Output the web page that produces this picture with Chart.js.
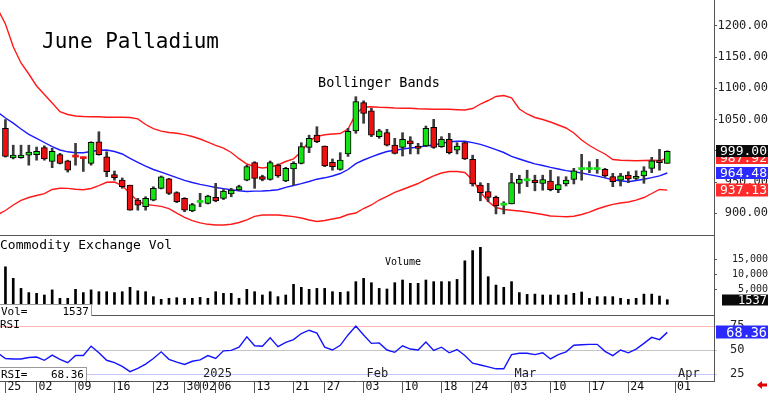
<!DOCTYPE html>
<html>
<head>
<meta charset="utf-8">
<script src="https://cdn.jsdelivr.net/npm/chart.js@4.4.1/dist/chart.umd.min.js"></script>
<style>
  body { margin: 0; background: #fff; width: 768px; height: 393px; overflow: hidden; position: relative; font-family: 'DejaVu Sans Mono', monospace; }
  canvas { position: absolute; left: 0; display: block; }
  .txt { position: absolute; white-space: pre; color: #000; line-height: 1; }
  .box { position: absolute; background: #fff; border-top: 1px solid #999; border-right: 1px solid #999; font-size: 11px; line-height: 1; color: #000; }
  .box span { position: absolute; top: 1px; }
</style>
</head>
<body>
<canvas id="cPrice" width="768" height="236" style="top:0"></canvas>
<canvas id="cVol" width="768" height="80" style="top:236px"></canvas>
<canvas id="cRsi" width="768" height="77" style="top:316px"></canvas>

<div class="txt" style="left:42px;top:31px;font-size:21px">June Palladium</div>
<div class="txt" style="left:318px;top:76px;font-size:13.5px">Bollinger Bands</div>
<div class="txt" style="left:0;top:238px;font-size:13px">Commodity Exchange Vol</div>
<div class="txt" style="left:385px;top:257px;font-size:10px">Volume</div>
<div class="txt" style="left:0;top:319px;font-size:11px">RSI</div>
<div class="box" id="volBox" style="left:0;top:304px;width:91px;height:11px"></div>
<div class="box" id="rsiBox" style="left:0;top:367px;width:86px;height:13px"></div>

<script>
// daily candles, 25 Nov 2024 .. 31 Mar 2025 (index 0 = 25 Nov)
const opens = [1036, 988.5, 989, 993, 994, 1005, 983, 994, 984, 990.5,
  988, 980, 1014.5, 990.5, 962, 953, 945, 921, 910.5, 921,
  940, 955, 933, 924, 904, 917.4, 916, 925.6, 924, 931,
  937.3, 953, 981, 958.6, 954.4, 977, 952, 971, 980, 1005.6,
  1025, 1007.7, 981.6, 970.4, 995, 1032, 1077, 1064, 1022.6, 1029,
  1009, 1005.6, 1016, 1007.7, 1007.7, 1037.6, 1006.6, 1018.4, 1001, 1013,
  986.4, 945, 934.6, 925.6, 913, 915, 948, 952, 953, 948,
  951.7, 938, 947, 954.4, 970, 970, 970, 970.4, 958.6, 953,
  961, 956, 959.7, 972, 984, 980];
const highs = [1050, 1009, 1009, 1009, 1006, 1008, 1004, 996, 985, 1012,
  990, 1014.5, 1030.5, 998.5, 967.7, 956.5, 945, 924, 926.5, 942.5,
  959.7, 956, 934.5, 925, 916, 932, 929, 948, 938, 940,
  945, 977, 982.6, 961, 983.7, 979, 973.6, 982.6, 1013, 1025,
  1038.6, 1007.7, 987, 997, 1036, 1086.6, 1080, 1068, 1034.4, 1034.4,
  1020, 1029, 1022.6, 1012, 1039.7, 1050.4, 1022.6, 1028, 1013, 1014,
  993, 949, 948, 927.7, 918.6, 964, 961, 969, 961, 961,
  969, 958.6, 958.6, 972, 994.4, 982.6, 986.4, 972, 964, 964,
  966.6, 968, 974.6, 989.6, 1002.4, 1000];
const lows = [990, 987, 988, 977, 985, 985, 973, 979, 966, 977,
  967, 977, 993, 958.5, 953, 940, 905, 905, 905, 920,
  939, 930, 917, 902.5, 902.5, 910.5, 914.9, 918.5, 922, 926.5,
  936, 952, 940, 952, 953, 957.6, 950.6, 945, 979, 997,
  1013, 974.6, 969, 969, 991, 1028, 1044, 1022.6, 1020, 1007.7,
  995, 991.7, 995, 995, 1006.6, 1004, 1005.6, 995, 995, 986,
  943.6, 920, 918.6, 899, 899, 915, 932, 942.6, 936, 937,
  936, 933, 943.7, 947, 953, 965, 964, 957.6, 942.6, 943.7,
  949, 954, 948, 965, 969, 980];
const closes = [991, 993, 993, 998, 999, 987, 999, 980, 969, 990,
  987.5, 1013.6, 994, 966.5, 957, 942.5, 905, 913, 924, 940,
  958.5, 932, 918.5, 905, 914, 917.8, 927.7, 920, 935.7, 937,
  942.6, 974.6, 956, 954.4, 981, 959.7, 972, 980, 1006.6, 1020,
  1014.6, 975.7, 974.6, 985, 1031, 1078.6, 1060, 1025, 1032, 1009,
  996, 1018.4, 1011, 1004, 1036, 1005.6, 1018.4, 997, 1007.7, 987,
  947, 933, 925.6, 912, 913.5, 949, 954.4, 952.5, 949, 954,
  938, 946, 953, 968, 970.5, 970.5, 970.5, 959.7, 950.6, 960,
  955, 958, 968, 984, 981, 999];
const volumes = [12500, 8650, 5300, 3900, 3650, 3100, 4800, 2000, 2000, 5000,
  3900, 4800, 4200, 4200, 3900, 4200, 5650, 4500, 4200, 2550,
  1650, 2000, 2200, 2000, 2000, 2300, 2000, 4200, 3650, 3650,
  2000, 5000, 4200, 3100, 4200, 2550, 3100, 6650, 5650, 5000,
  5300, 5300, 4200, 4000, 4200, 7550, 8650, 7200, 5300, 5100,
  7200, 8100, 7000, 7000, 8100, 7550, 7550, 7550, 8300, 14500,
  17900, 19000, 9200, 6400, 5650, 7550, 3900, 3300, 3400, 3100,
  3100, 3100, 3100, 3650, 4100, 2000, 2550, 2550, 2550, 2000,
  1650, 2000, 3400, 3400, 2750, 1537];

// indicator lines start one day earlier (22 Nov) so they run to the left edge
const LINE_START = -1;
const bbUpper = [1227, 1202.9, 1166.6, 1140.5, 1122.9, 1103.7, 1090.1, 1076.5, 1062.6, 1058.1, 1055.7,
  1054.9, 1054.6, 1054.4, 1053.6, 1053.6, 1053.6, 1053.3, 1051.2, 1042.1, 1035.5,
  1031.4, 1029.3, 1028, 1025.9, 1022.9, 1018.9, 1013.8, 1008.8, 1004.2, 997.3,
  987.4, 978.9, 974.6, 972.5, 974.1, 977.3, 982.9, 987.2, 998.9, 1015.7,
  1022.9, 1025.6, 1026.9, 1027.7, 1034.9, 1058.9, 1070.1, 1070.6, 1069.8, 1069.3,
  1068.5, 1068, 1068, 1067.2, 1066.9, 1066.6, 1066.6, 1066.4, 1065.8, 1065.3,
  1067.7, 1074.9, 1080.5, 1086.9, 1088.5, 1084.8, 1066.9, 1058.9, 1053.3, 1050.1,
  1046.1, 1041.3, 1036.5, 1028.5, 1017.3, 1008.5, 1001.3, 994.9, 986.1, 985,
  984.5, 984.2, 984.5, 985, 984.5, 987.92];
const bbMiddle = [1062, 1052.5, 1044.2, 1034.9, 1026.4, 1020, 1013.3, 1006.7, 1001.3, 998.4, 996.8,
  997, 998.9, 1001, 1001.3, 998.9, 994.9, 988, 981.6, 975.4, 970.1,
  965.8, 961.6, 957, 952.8, 949.3, 946.4, 943.9, 941.3, 939.5, 937.6,
  936, 935, 935.5, 935.8, 936.5, 937.8, 941.6, 944.5, 947.5, 950.9,
  954.6, 956.8, 959.7, 963.7, 970.1, 979.5, 985.3, 990.4, 994.9, 998.9,
  1000.8, 1002.9, 1004.5, 1005.9, 1007.7, 1009.3, 1012, 1014.4, 1015.2, 1015.4,
  1013.1, 1010.3, 1006.4, 1001.8, 997.3, 991.2, 986.9, 982.9, 979.2, 976.5,
  973.5, 970.9, 968.3, 966.4, 964.5, 961.9, 959.5, 956.7, 953.5, 952,
  950.6, 952.5, 954.6, 957.1, 959.9, 964.48];
const bbLower = [898, 904.5, 913.3, 920.8, 925.3, 928.5, 931.5, 938.1, 940, 939.9, 938.6,
  937.6, 939.7, 944.2, 949.6, 950.1, 944.5, 931.7, 919.4, 914.4, 912.7,
  911.1, 907.4, 900.2, 893.6, 888.3, 884.8, 882.4, 881.3, 881.3, 882.6,
  885.3, 889.5, 895.2, 897.3, 897.3, 897.3, 896.2, 894.7, 892.5, 889.3,
  886.9, 888.5, 890.9, 893.3, 898.1, 900.5, 907.7, 913.3, 921.3, 927.2,
  933.6, 938.1, 942.9, 947.7, 954.1, 960, 964.5, 966.9, 966.9, 965.3,
  953.3, 934.1, 918.9, 909.3, 906.1, 905, 903.7, 902.1, 900.2, 898.1,
  895.7, 895.1, 894.6, 895.4, 898.1, 901.8, 906.9, 910.9, 914.4, 916.5,
  918.1, 921, 925.3, 931.7, 938.1, 937.13];
const rsiValues = [47, 41.2, 40.7, 40.7, 42.2, 42.7, 39.3, 44.7, 40.3, 36.8, 44.2,
  44.2, 54, 47.1, 39.3, 36.8, 32.9, 27.5, 30.9, 35.3, 41.2,
  48.1, 40.3, 37.3, 34.9, 38.3, 39.7, 44.2, 41.2, 49.1, 49.6,
  52.9, 63.7, 54.4, 54, 62.7, 53.5, 57.9, 60.8, 67.2, 70.6,
  67.6, 53, 50, 54.9, 65.7, 75, 65.7, 56.9, 57.4, 50,
  47.6, 54.4, 51, 50, 58.3, 49.6, 52.9, 47.1, 50.5, 44.2,
  36.3, 34.4, 32.4, 30.4, 30.4, 45.2, 46.6, 46.6, 45.2, 47.1,
  40.7, 45.2, 48.1, 54.9, 55.4, 55.9, 55.9, 48.6, 44.2, 50,
  47.1, 51, 56.9, 63.2, 60.8, 68.36];

const priceTicks = [900, 950, 1000, 1050, 1100, 1150, 1200];
const volumeTicks = [5000, 10000, 15000];
const rsiTicks = [25, 50, 75];
const dayTickIndex = [0, 4, 9, 14, 19, 23, 25, 27, 32, 37, 41, 46, 51, 56, 60, 65, 70, 75, 80, 86];
const dayTickLabels = ['25', '02', '09', '16', '23', '30', '02', '06', '13', '21', '27', '03', '10', '18', '24', '03', '10', '17', '24', '01'];
const monthIndex = [25, 46, 65, 86];
const monthLabels = ['2025', 'Feb', 'Mar', 'Apr'];

const FONT = "'DejaVu Sans Mono', monospace";
const X_MIN = -0.7, X_MAX = 91;
const AXIS_W = 54;
const last = arr => arr[arr.length - 1];

// keep every panel's plot area flush with its canvas edges
const fitY = s => { s.width = AXIS_W; s.paddingTop = 0; s.paddingBottom = 0; };
const xHidden = { type: 'linear', min: X_MIN, max: X_MAX, offset: false, display: false };
const common = {
  responsive: false, animation: false, events: [],
  layout: { padding: 0 },
  plugins: { legend: { display: false }, tooltip: { enabled: false } }
};
const lineData = arr => arr.map((v, i) => ({ x: i + LINE_START, y: v }));
const lineDs = (arr, color) => ({
  type: 'line', data: lineData(arr), borderColor: color, borderWidth: 1.4,
  pointRadius: 0, tension: 0, order: 3
});

// draws a line under the chart area and coloured value tags on the right axis
const panelPlugin = {
  id: 'panel',
  afterDraw(chart, args, opts) {
    const ctx = chart.ctx, a = chart.chartArea;
    ctx.save();
    if (opts.bottomLine) {
      ctx.strokeStyle = '#555';
      ctx.lineWidth = 1;
      ctx.beginPath();
      ctx.moveTo(0, a.bottom - 0.5);
      ctx.lineTo(a.right, a.bottom - 0.5);
      ctx.stroke();
    }
    const y = chart.scales.y;
    ctx.textAlign = 'right';
    ctx.textBaseline = 'middle';
    (opts.tags || []).forEach(t => {
      const py = Math.round(y.getPixelForValue(t.value));
      ctx.fillStyle = t.bg;
      ctx.fillRect(t.left, py - t.h / 2, 768 - t.left, t.h);
      ctx.fillStyle = '#fff';
      ctx.font = t.font;
      ctx.fillText(t.text, 767, py + 1);
    });
    ctx.restore();
  }
};

// ---- price panel ----
const isDoji = i => Math.abs(closes[i] - opens[i]) < 1;
const upColor = '#14e014', downColor = '#ee1010';
new Chart(document.getElementById('cPrice'), {
  type: 'bar',
  data: {
    datasets: [
      lineDs(bbUpper, '#ff1a1a'),
      lineDs(bbMiddle, '#1a1aff'),
      lineDs(bbLower, '#ff1a1a'),
      {
        data: lows.map((v, i) => ({ x: i, y: [v, highs[i]] })),
        backgroundColor: '#3a3a3a', barThickness: 2, grouped: false, order: 2
      },
      {
        data: opens.map((v, i) => ({ x: i, y: [v, closes[i]] })),
        backgroundColor: c => closes[c.dataIndex] >= opens[c.dataIndex] ? upColor : downColor,
        borderColor: '#000',
        borderWidth: c => isDoji(c.dataIndex) ? 0 : 1,
        borderSkipped: false,
        barThickness: 6,
        minBarLength: 2, grouped: false, order: 1
      }
    ]
  },
  options: {
    ...common,
    plugins: {
      ...common.plugins,
      panel: {
        bottomLine: true,
        tags: [
          { value: last(bbUpper), text: last(bbUpper).toFixed(2), bg: '#ff2a2a', left: 716, h: 12, font: '13px ' + FONT },
          { value: last(closes), text: last(closes).toFixed(2), bg: '#0a0a0a', left: 716, h: 12, font: '13px ' + FONT },
          { value: last(bbMiddle), text: last(bbMiddle).toFixed(2), bg: '#2a2aff', left: 716, h: 12, font: '13px ' + FONT },
          { value: last(bbLower), text: last(bbLower).toFixed(2), bg: '#ff2a2a', left: 716, h: 13, font: '13px ' + FONT }
        ]
      }
    },
    scales: {
      x: xHidden,
      y: {
        position: 'right', min: 863.7, max: 1241.3,
        afterFit: fitY,
        afterBuildTicks: s => { s.ticks = priceTicks.map(v => ({ value: v })); },
        ticks: { callback: v => v.toFixed(2), crossAlign: 'far', color: '#222', font: { family: FONT, size: 12 } },
        grid: { drawOnChartArea: false, tickLength: 3, color: '#555' },
        border: { color: '#555' }
      }
    }
  },
  plugins: [panelPlugin]
});

// ---- volume panel ----
new Chart(document.getElementById('cVol'), {
  type: 'bar',
  data: {
    datasets: [{
      data: volumes.map((v, i) => ({ x: i, y: v })),
      backgroundColor: '#000', barThickness: 2
    }]
  },
  options: {
    ...common,
    plugins: {
      ...common.plugins,
      panel: {
        bottomLine: true,
        tags: [{ value: last(volumes), text: String(last(volumes)), bg: '#0a0a0a', left: 722, h: 11, font: '12px ' + FONT }]
      }
    },
    scales: {
      x: xHidden,
      y: {
        position: 'right', min: -3900, max: 22767,
        afterFit: fitY,
        afterBuildTicks: s => { s.ticks = volumeTicks.map(v => ({ value: v })); },
        ticks: { crossAlign: 'far', color: '#222', font: { family: FONT, size: 10 } },
        grid: { drawOnChartArea: false, tickLength: 3, color: '#555' },
        border: { color: '#555' }
      }
    }
  },
  plugins: [panelPlugin]
});

// ---- RSI panel with the date axis ----
const monthPlugin = {
  id: 'months',
  afterDraw(chart) {
    const ctx = chart.ctx, x = chart.scales.x;
    ctx.save();
    ctx.font = '12px ' + FONT;
    ctx.fillStyle = '#222';
    ctx.textBaseline = 'middle';
    monthIndex.forEach((d, k) => ctx.fillText(monthLabels[k], x.getPixelForValue(d) + 3, 58));
    // small red arrow, bottom right
    ctx.fillStyle = '#e00000';
    ctx.beginPath();
    ctx.moveTo(757, 69); ctx.lineTo(762, 65); ctx.lineTo(762, 67.5); ctx.lineTo(767, 67.5);
    ctx.lineTo(767, 70.5); ctx.lineTo(762, 70.5); ctx.lineTo(762, 73); ctx.closePath();
    ctx.fill();
    ctx.restore();
  }
};
const rsiGrid = { 75: '#ffb4b4', 50: '#c4c4c4', 25: '#c4c4ff' };
new Chart(document.getElementById('cRsi'), {
  type: 'line',
  data: {
    datasets: [{
      data: lineData(rsiValues), borderColor: '#1414ff', borderWidth: 1.4, pointRadius: 0, tension: 0
    }]
  },
  options: {
    ...common,
    plugins: {
      ...common.plugins,
      panel: {
        tags: [{ value: last(rsiValues), text: last(rsiValues).toFixed(2), bg: '#2a2aff', left: 716, h: 13, font: '13.5px ' + FONT }]
      }
    },
    scales: {
      x: {
        type: 'linear', min: X_MIN, max: X_MAX, offset: false,
        afterFit: s => { s.height = 12; s.paddingLeft = 0; s.paddingRight = 0; },
        afterBuildTicks: s => { s.ticks = dayTickIndex.map(v => ({ value: v })); },
        ticks: {
          callback: (v, i) => dayTickLabels[i], align: 'start', labelOffset: 2, padding: -13,
          autoSkip: false, maxRotation: 0, color: '#111', font: { family: FONT, size: 11.5 }
        },
        grid: { drawOnChartArea: false, tickLength: 12, color: '#555' },
        border: { color: '#555' }
      },
      y: {
        position: 'right', min: 17.71, max: 85.42,
        afterFit: fitY,
        afterBuildTicks: s => { s.ticks = rsiTicks.map(v => ({ value: v })); },
        ticks: { crossAlign: 'near', padding: 13, color: '#222', font: { family: FONT, size: 12 } },
        grid: { color: c => rsiGrid[c.tick.value] || '#ccc', tickLength: 3 },
        border: { color: '#555' }
      }
    }
  },
  plugins: [panelPlugin, monthPlugin]
});

// left-corner value boxes
function fillBox(id, name, value) {
  const box = document.getElementById(id);
  box.innerHTML = '<span style="left:1px">' + name + '</span><span style="right:2px">' + value + '</span>';
}
fillBox('volBox', 'Vol=', String(last(volumes)));
fillBox('rsiBox', 'RSI=', last(rsiValues).toFixed(2));
</script>
</body>
</html>
